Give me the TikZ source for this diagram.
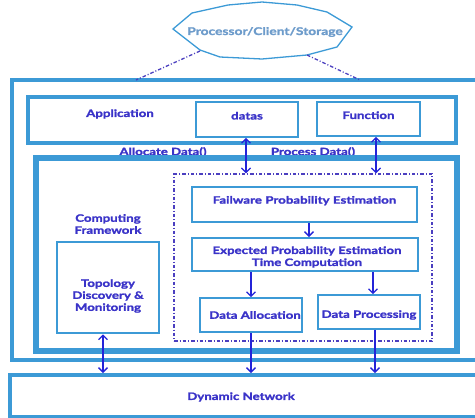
\documentclass[tikz,border=0pt]{standalone}
\usepackage{fontspec}
\setmainfont{Lato}[FakeStretch=1.3, BoldFeatures={FakeBold=1.8}]
\usetikzlibrary{arrows.meta,fit}
\definecolor{boxblue}{HTML}{3C9AD6}
\definecolor{txtblue}{HTML}{3A33C8}
\definecolor{arrblue}{HTML}{2424D8}
\definecolor{octtxt}{HTML}{6E9CCB}
\definecolor{dashpurple}{HTML}{4B3FC0}
\begin{document}
\begin{tikzpicture}[x=1pt,y=-1pt,
  lbl/.style={text=txtblue, font=\bfseries\fontsize{10.2}{12}\selectfont, align=center, inner sep=0pt},
  rbox/.style={draw=boxblue, inner sep=0pt},
  thinbox/.style={rbox, line width=1.6pt},
  midbox/.style={rbox, line width=2pt},
  arr/.style={draw=arrblue, line width=1.3pt, -{Straight Barb[length=4.5pt,width=9pt]}},
  darr/.style={draw=arrblue, line width=1.3pt, {Straight Barb[length=4.5pt,width=9pt]}-{Straight Barb[length=4.5pt,width=9pt]}},
  dashdot/.style={draw=dashpurple, line width=1.3pt, dash pattern=on 3.5pt off 2pt on 1pt off 2pt}
]
\useasboundingbox (0,0) rectangle (475,418);

% top octagon
\draw[boxblue, line width=1.3pt] (173,29) -- (192,13) -- (228,5) -- (262,2) -- (297,5) -- (327,12) -- (352,27) -- (337,47) -- (307,55) -- (262,59) -- (220,57) -- (200,50) -- cycle;
\node[text=octtxt, font=\bfseries\fontsize{10.6}{12}\selectfont, inner sep=0pt] (proc) at (265,32) {Processor/Client/Storage};
\coordinate (oL) at (200,51);
\coordinate (oR) at (307,55);

% outer box
\node[rbox, line width=4pt, fit={(12,80) (490,360)}] (outer) {};
\coordinate (eL) at (136,80);
\coordinate (eR) at (360,80);
\draw[dashdot] (oL) -- (eL);
\draw[dashdot] (oR) -- (eR);

% application
\node[rbox, line width=3.5pt, fit={(28,97) (456,143)}] (app) {};
\node[lbl] (applbl) at (120,114) {Application};
\node[thinbox, fit={(196,102) (298,137)}, lbl] (datas) {datas};
\node[thinbox, fit={(317,102) (420,136)}, lbl] (func) {Function};

\node[lbl] (alloc) at (163,152) {Allocate Data()};
\node[lbl] (procd) at (313,152) {Process Data()};

% computing framework
\node[rbox, line width=6pt, fit={(36,158) (457,351)}] (frame) {};
\node[lbl] (framelbl) at (108,224) {Computing\\Framework};
\node[rbox, line width=2.5pt, fit={(57,242) (159,333)}] (topo) {};
\node[lbl] (topolbl) at (108,296) {Topology\\Discovery \&\\Monitoring};

% dashed region
\node[dashdot, fit={(174,174) (432,341)}, inner sep=0pt] (region) {};
\node[midbox, fit={(192,187) (417,222)}, lbl] (fail) {Failware Probability Estimation};
\node[midbox, fit={(192,238) (418,271)}] (exp) {};
\node[lbl] (explbl) at (307,257) {Expected Probability Estimation\\Time Computation};
\node[thinbox, fit={(200,298) (302,332)}] (dalloc) {};
\node[lbl] (dalloclbl) at (255,315) {Data Allocation};
\node[thinbox, fit={(318,295) (420,329)}] (dproc) {};
\node[lbl] (dproclbl) at (369,315) {Data Processing};

% dynamic network
\node[rbox, line width=4pt, fit={(10,375) (490,417)}] (dyn) {};
\node[lbl] (dynlbl) at (241,397) {Dynamic Network};

% arrow x positions
\coordinate (x1) at (246,0);
\coordinate (x2) at (376,0);
\coordinate (x3) at (309,0);
\coordinate (x4) at (251,0);
\coordinate (x5) at (373,0);
\coordinate (x6) at (103,0);
\coordinate (x7) at (375,0);

\draw[darr] (datas.south -| x1) -- (region.north -| x1);
\draw[darr] (func.south -| x2) -- (region.north -| x2);
\draw[arr] (fail.south -| x3) -- (exp.north -| x3);
\draw[arr] (exp.south -| x4) -- (dalloc.north -| x4);
\draw[arr] (exp.south -| x5) -- (dproc.north -| x5);
\draw[darr] (topo.south -| x6) -- (dyn.north -| x6);
\draw[arr] (dalloc.south -| x4) -- (dyn.north -| x4);
\draw[arr] (dproc.south -| x7) -- (dyn.north -| x7);
\end{tikzpicture}
\end{document}
